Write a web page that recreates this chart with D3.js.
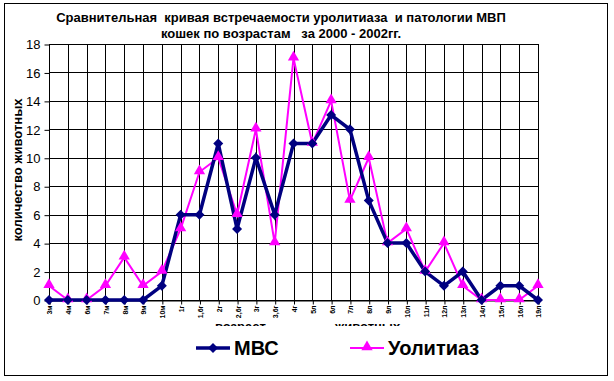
<!DOCTYPE html>
<html><head><meta charset="utf-8">
<script src="https://cdn.jsdelivr.net/npm/d3@7"></script>
<style>body{margin:0;background:#fff}text{font-family:Arial,"Liberation Sans",sans-serif}</style>
</head><body><svg id="c" width="614" height="381"></svg>
<script>
const categories = ["3м","4м","6м","7м","8м","9м","10м","1г","1,6г","2г","2,6г","3г","3,6г","4г","5л","6л","7л","8л","9л","10л","11л","12л","13л","14л","15л","16л","19л"];
const mvs = [0,0,0,0,0,0,1,6,6,11,5,10,6,11,11,13,12,7,4,4,2,1,2,0,1,1,0];
const urolith = [1,0,0,1,3,1,2,5,9,10,6,12,4,17,11,14,7,10,4,5,2,4,1,0,0,0,1];
const yTicks = [0,2,4,6,8,10,12,14,16,18];
const seriesNames = ["МВС","Уолитиаз"];
const titleLines = ["Сравнительная  кривая встречаемости уролитиаза  и патологии МВП","кошек по возрастам   за 2000 - 2002гг."];

const svg = d3.select("#c");
svg.append("rect").attr("x",4.5).attr("y",3.5).attr("width",603).attr("height",372)
  .attr("fill","#fff").attr("stroke","#000").attr("stroke-width",1);

const x = d3.scalePoint().domain(categories).range([49,538]).padding(0);
const y = d3.scaleLinear().domain([0,18]).range([300,44]);

// grid
const g = svg.append("g");
g.selectAll("line.h").data(yTicks).join("line")
  .attr("x1",49).attr("x2",538).attr("y1",d=>Math.round(y(d))+0.5).attr("y2",d=>Math.round(y(d))+0.5)
  .attr("stroke","#000");
g.selectAll("line.v").data(categories).join("line")
  .attr("x1",d=>Math.round(x(d))+0.5).attr("x2",d=>Math.round(x(d))+0.5).attr("y1",44).attr("y2",300)
  .attr("stroke","#000");

// axes
const ya = svg.append("g").attr("transform","translate(49.5,0.5)")
  .call(d3.axisLeft(y).tickValues(yTicks).tickSize(5).tickPadding(4));
ya.select(".domain").remove();
ya.selectAll("line").attr("stroke","#000");
ya.selectAll("text").attr("font-size",13).attr("fill","#000").attr("font-family","Arial, Liberation Sans");

const xa = svg.append("g").attr("transform","translate(0.5,300.5)")
  .call(d3.axisBottom(x).tickSize(4));
xa.select(".domain").attr("stroke","#000");
xa.selectAll("line").attr("stroke","#000");
xa.selectAll("text").attr("font-size",7).attr("font-weight","bold").attr("fill","#000")
  .attr("text-anchor","end").attr("transform","rotate(-90)").attr("x",-5).attr("y",0).attr("dy","0.35em")
  .attr("font-family","Arial, Liberation Sans");

// titles
svg.selectAll("text.title").data(titleLines).join("text")
  .attr("x",281).attr("y",(d,i)=>22+i*16).attr("text-anchor","middle")
  .attr("font-size",13).attr("font-weight","bold").style("white-space","pre").attr("fill","#000").text(d=>d);
svg.append("text").attr("transform","translate(22,170) rotate(-90)").attr("text-anchor","middle")
  .attr("font-size",13).attr("font-weight","bold").text("количество животных");
svg.append("text").attr("x",215).attr("y",331).attr("font-size",13).attr("font-weight","bold").text("возраст");
svg.append("text").attr("x",335).attr("y",331).attr("font-size",13).attr("font-weight","bold").text("животных");

// lines
const line = d3.line().x((d,i)=>x(categories[i])).y(d=>y(d));
svg.append("path").datum(urolith).attr("d",line).attr("fill","none").attr("stroke","#FF00FF").attr("stroke-width",2);
svg.append("path").datum(mvs).attr("d",line).attr("fill","none").attr("stroke","#000080").attr("stroke-width",3.5);

const diamond = d3.symbol().type(d3.symbolSquare).size(50)();
const tri = d3.symbol().type(d3.symbolTriangle).size(55)();
svg.append("g").selectAll("path").data(urolith).join("path")
  .attr("d",tri).attr("fill","#FF00FF")
  .attr("transform",(d,i)=>`translate(${x(categories[i])},${y(d)-1})`);
svg.append("g").selectAll("path").data(mvs).join("path")
  .attr("d",diamond).attr("fill","#000080")
  .attr("transform",(d,i)=>`translate(${x(categories[i])},${y(d)}) rotate(45)`);

// legend
const lg = svg.append("g");
lg.append("rect").attr("x",185).attr("y",326).attr("width",310).attr("height",44).attr("fill","#fff");
lg.append("line").attr("x1",196).attr("x2",230).attr("y1",348).attr("y2",348).attr("stroke","#000080").attr("stroke-width",3.5);
lg.append("path").attr("d",diamond).attr("fill","#000080").attr("transform","translate(213,348) rotate(45)");
lg.append("text").attr("x",234).attr("y",355).attr("font-size",20).attr("font-weight","bold").text(seriesNames[0]);
lg.append("line").attr("x1",350).attr("x2",384).attr("y1",348).attr("y2",348).attr("stroke","#FF00FF").attr("stroke-width",2);
lg.append("path").attr("d",tri).attr("fill","#FF00FF").attr("transform","translate(367,347)");
lg.append("text").attr("x",388).attr("y",355).attr("font-size",20).attr("font-weight","bold").text(seriesNames[1]);
</script></body></html>
